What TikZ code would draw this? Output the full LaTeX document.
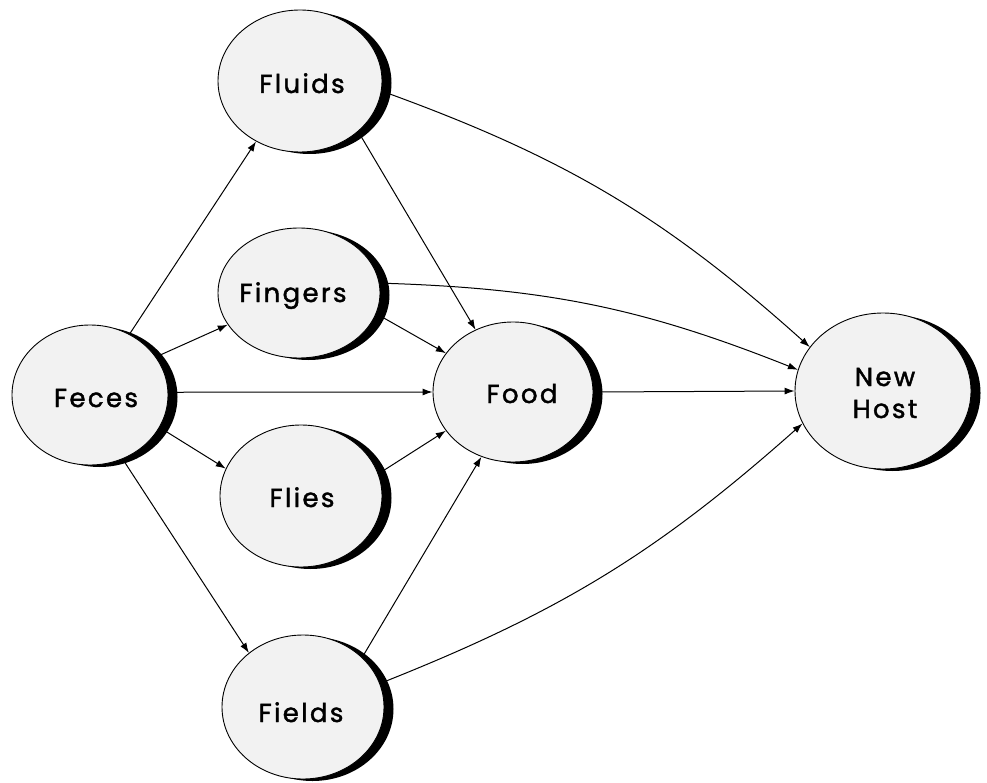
\documentclass[tikz,border=0pt]{standalone}
\usepackage{fontspec}
\newfontfamily\labfont[LetterSpace=9, FakeBold=1.6]{Poppins}
\usetikzlibrary{shapes.geometric,shadows,arrows.meta}
\begin{document}
\begin{tikzpicture}[x=1pt,y=-1pt,
  blob/.style={ellipse, draw=black, line width=0.9pt, fill=black!5, inner sep=0pt,
    drop shadow={shadow xshift=9.5pt, shadow yshift=-2pt, fill=black, opacity=1}},
  lab/.style={font=\labfont\fontsize{26}{31}\selectfont, anchor=base, inner sep=0pt},
  conn/.style={line width=1pt, draw=black, -{Latex[length=10pt,width=7pt]}}]
\useasboundingbox (0,0) rectangle (987,783);
\fill[white] (0,0) rectangle (987,783);

\node[blob, minimum width=164pt, minimum height=142pt] (fluids)  at (300,81)  {};
\node[blob, minimum width=162pt, minimum height=130pt] (fingers) at (299,293) {};
\node[blob, minimum width=156pt, minimum height=140pt] (feces)   at (90,395)  {};
\node[blob, minimum width=162pt, minimum height=142pt] (flies)   at (301,496) {};
\node[blob, minimum width=162pt, minimum height=144pt] (fields)  at (303,707) {};
\node[blob, minimum width=160pt, minimum height=140pt] (food)    at (513,392) {};
\node[blob, minimum width=176pt, minimum height=156pt] (host)    at (883,391) {};

\node[lab] (tfluids)  at (302,93)  {Fluids};
\node[lab] (tfingers) at (293,302) {Fingers};
\node[lab] (tfeces)   at (96,407)  {Feces};
\node[lab] (tflies)   at (302,507) {Flies};
\node[lab] (tfields)  at (301,722) {Fields};
\node[lab] (tfood)    at (522,403) {Food};
\node[lab] (tnew)     at (885,386) {New};
\node[lab] (thost)    at (885,418) {Host};

\draw[conn] (feces.57) -- (fluids.234);
\draw[conn] (feces.30) -- (fingers.204);
\draw[conn] (feces.2) -- (food.180);
\draw[conn] (feces.-25) -- (flies.160);
\draw[conn] (feces.-63) -- (fields.135);
\draw[conn] (fluids.-41) -- (food.121);
\draw[conn] (fluids.-7) to[bend left=11] (host.149);
\draw[conn] (fingers.-15) -- (food.150);
\draw[conn] (fingers.7) to[bend left=10] (host.166);
\draw[conn] (food.0) -- (host.180);
\draw[conn] (flies.16) -- (food.210);
\draw[conn] (fields.40) -- (food.244);
\draw[conn] (fields.17) to[bend right=10] (host.202);
\end{tikzpicture}
\end{document}
